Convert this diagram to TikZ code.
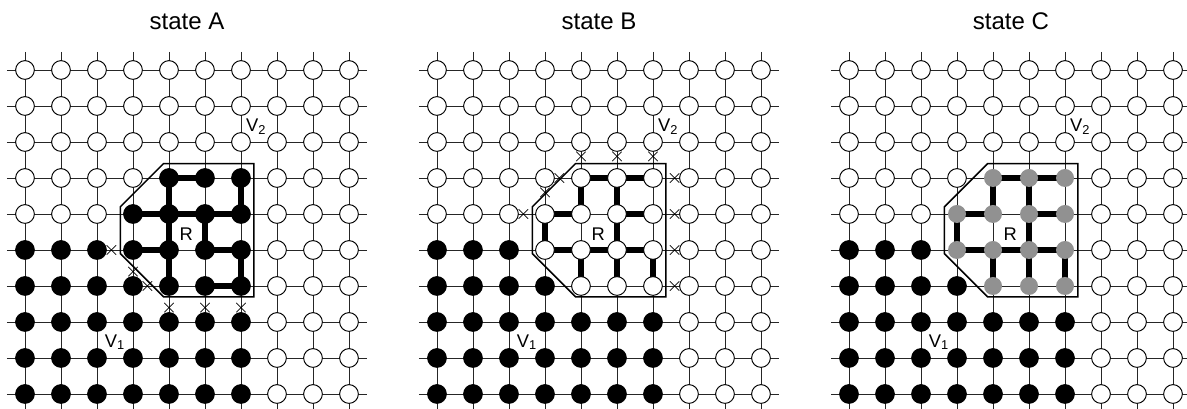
\documentclass[tikz,border=0pt]{standalone}
\usepackage{fontspec}
\setmainfont{Liberation Sans}
\usetikzlibrary{shapes.misc}
\pgfdeclarelayer{background}
\pgfsetlayers{background,main}

\begin{document}
\begin{tikzpicture}[x=1cm, y=1cm]
\tikzset{
  vtx/.style={circle,draw=black,line width=0.75pt,fill=white,minimum size=0.52cm,inner sep=0pt},
  vblk/.style={vtx,fill=black},
  vgry/.style={circle,fill=black!43,minimum size=0.5cm,inner sep=0pt},
  grd/.style={line width=0.75pt,draw=black!85},
  tre/.style={line width=4.2pt,draw=black},
  bnd/.style={line width=1.2pt,draw=black},
  cut/.style={cross out,draw=black,line width=0.6pt,minimum size=0.24cm,inner sep=0pt},
  lab/.style={font=\fontsize{14.5}{17}\selectfont,inner sep=0pt},
  ttl/.style={font=\fontsize{19}{22}\selectfont,inner sep=0pt}
}
\useasboundingbox (-0.694,1.944) rectangle (32.278,-9.417);
% ---- one lattice per state: name/shift/mode/tree edges/cut edges
\foreach \st/\ox/\md/\tr/\xs in {
  A/0/0/{4/3/5/3,4/3/4/4,6/3/6/4,3/4/4/4,4/4/5/4,5/4/6/4,4/4/4/5,5/4/5/5,3/5/4/5,5/5/6/5,4/5/4/6,6/5/6/6,5/6/6/6}/{3/5/2/5,3/5/3/6,4/6/3/6,4/6/4/7,5/6/5/7,6/6/6/7},
  B/11.444/1/{4/3/5/3,5/3/6/3,4/3/4/4,5/3/5/4,3/4/4/4,5/4/6/4,3/4/3/5,5/4/5/5,3/5/4/5,4/5/5/5,5/5/6/5,4/5/4/6,5/5/5/6,6/5/6/6}/{4/3/4/2,5/3/5/2,6/3/6/2,6/3/7/3,6/4/7/4,6/5/7/5,6/6/7/6,4/3/3/3,3/4/3/3,3/4/2/4},
  C/22.889/2/{4/3/5/3,5/3/6/3,4/3/4/4,5/3/5/4,3/4/4/4,5/4/6/4,3/4/3/5,5/4/5/5,3/5/4/5,4/5/5/5,5/5/6/5,4/5/4/6,5/5/5/6,6/5/6/6}/{}}
{
\begin{scope}[xshift=\ox cm]
% ---- vertices
\foreach \cl in {0,...,9}{
  \foreach \rw in {0,...,9}{
    \pgfmathtruncatemacro\inr{(\rw>2)&&(\rw<7)&&(\cl>2)&&(\cl<7)&&!((\cl==3)&&((\rw==3)||(\rw==6)))}
    \pgfmathtruncatemacro\vone{((\rw>4)&&(\cl<3))||((\rw==6)&&(\cl==3))||((\rw>6)&&(\cl<7))}
    \def\sty{vtx}
    \ifnum\inr=1
      \ifcase\md \def\sty{vblk}\or\def\sty{vtx}\or\def\sty{vgry}\fi
    \else
      \ifnum\vone=1 \def\sty{vblk}\fi
    \fi
    \node[\sty] (\st-\cl-\rw) at (\cl,-\rw) {};
  }
  \coordinate (\st-n\cl) at (\cl,0.5);
  \coordinate (\st-s\cl) at (\cl,-9.5);
  \coordinate (\st-w\cl) at (-0.5,-\cl);
  \coordinate (\st-e\cl) at (9.5,-\cl);
}
% ---- lattice edges and tree edges
\begin{pgfonlayer}{background}
\foreach \rw in {0,...,9}{
  \foreach \cl [evaluate=\cl as \nx using int(\cl+1)] in {0,...,8}{
    \draw[grd] (\st-\cl-\rw.center) -- (\st-\nx-\rw.center);
    \draw[grd] (\st-\rw-\cl.center) -- (\st-\rw-\nx.center);
  }
  \draw[grd] (\st-w\rw) -- (\st-0-\rw.center);
  \draw[grd] (\st-9-\rw.center) -- (\st-e\rw);
  \draw[grd] (\st-n\rw) -- (\st-\rw-0.center);
  \draw[grd] (\st-\rw-9.center) -- (\st-s\rw);
}
\foreach \ca/\ra/\cb/\rb in \tr
  \draw[tre] (\st-\ca-\ra.center) -- (\st-\cb-\rb.center);
\end{pgfonlayer}
% ---- cut edges
\ifnum\md<2
\foreach \ca/\ra/\cb/\rb in \xs
  \path (\st-\ca-\ra.center) -- node[cut,pos=0.6] (\st-x\ca\ra\cb\rb) {} (\st-\cb-\rb.center);
\fi
% ---- region R and labels
\draw[bnd] (3.85,-2.6) -- (6.36,-2.6) -- (6.36,-6.3) -- (3.85,-6.3) -- (2.65,-5.1) -- (2.65,-3.8) -- cycle;
\node[lab] (\st-r) at (4.48,-4.56) {R};
\node[lab] (\st-v1) at (2.5,-7.56) {V\textsubscript{1}};
\node[lab] (\st-v2) at (6.42,-1.58) {V\textsubscript{2}};
\node[ttl] (\st-ttl) at (4.5,1.36) {state \st};
\end{scope}
}
\end{tikzpicture}
\end{document}
